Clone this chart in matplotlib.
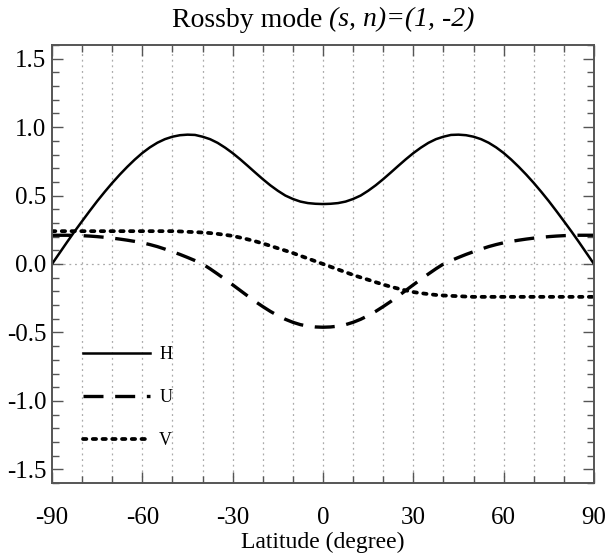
import numpy as np
import matplotlib.pyplot as plt
from matplotlib.ticker import MultipleLocator

plt.rcParams['font.family'] = ['Liberation Serif', 'DejaVu Serif']
plt.rcParams['axes.unicode_minus'] = False

# latitude (degree), every 2.5 deg
lat = np.arange(-90, 92.5, 2.5)

# values for -90..0; H and U are symmetric, V antisymmetric
h_half = [0.00, 0.08, 0.16, 0.238, 0.313, 0.387, 0.459, 0.527, 0.592, 0.653, 0.710, 0.763,
          0.811, 0.852, 0.886, 0.912, 0.930, 0.941, 0.945, 0.943, 0.93, 0.912, 0.885, 0.85,
          0.81, 0.765, 0.717, 0.668, 0.62, 0.575, 0.535, 0.50, 0.475, 0.456, 0.445, 0.44, 0.438]
u_half = [0.21, 0.21, 0.21, 0.209, 0.207, 0.204, 0.20, 0.195, 0.189, 0.182, 0.174, 0.165,
          0.155, 0.142, 0.127, 0.109, 0.09, 0.07, 0.048, 0.025, 0.0, -0.035, -0.073, -0.112,
          -0.152, -0.193, -0.234, -0.274, -0.311, -0.346, -0.377, -0.404, -0.426, -0.443,
          -0.454, -0.46, -0.462]
v_half = [0.24, 0.24, 0.24, 0.24, 0.24, 0.24, 0.24, 0.24, 0.24, 0.24, 0.24, 0.24, 0.24, 0.24,
          0.24, 0.24, 0.24, 0.238, 0.235, 0.233, 0.23, 0.226, 0.22, 0.213, 0.205, 0.193, 0.18,
          0.166, 0.15, 0.133, 0.115, 0.098, 0.08, 0.06, 0.04, 0.02, 0.0]

H = h_half + h_half[-2::-1]
U = u_half + u_half[-2::-1]
V = v_half + [-v for v in v_half[-2::-1]]

fig = plt.figure(figsize=(6.06, 5.57), dpi=100)
ax = fig.add_axes([52 / 606, 1 - 483 / 557, 542 / 606, 438 / 557])

ax.plot(lat, H, color='black', lw=1.8, label='H')
ax.plot(lat, U, color='black', lw=2.4, dashes=(6, 3.5), label='U')
ax.plot(lat, V, color='black', lw=2.7, dashes=(0.9, 1.7), dash_capstyle='round', label='V')

ax.set_xlim(-90, 90)
ax.set_ylim(-1.6, 1.6)
ax.xaxis.set_major_locator(MultipleLocator(30))
ax.xaxis.set_minor_locator(MultipleLocator(10))
ax.yaxis.set_major_locator(MultipleLocator(0.5))
ax.yaxis.set_minor_locator(MultipleLocator(0.1))
ax.yaxis.set_major_formatter(lambda v, p: f'{v:.1f}')
ax.tick_params(which='both', direction='in', top=True, right=True, color='#555555',
               labelsize=18, width=1)
ax.tick_params(which='major', length=8)
ax.tick_params(which='minor', length=5)
ax.tick_params(axis='x', which='major', pad=17)
ax.tick_params(axis='y', which='major', pad=4)
for s in ax.spines.values():
    s.set_color('#555555')
    s.set_linewidth(1.4)

for x in range(-80, 90, 10):
    ax.axvline(x, color='#aaaaaa', lw=0.9, ls=(0, (1.5, 3)), zorder=0)
ax.axhline(0, color='#aaaaaa', lw=0.9, ls=(0, (1.5, 3)), zorder=0)

ax.set_xlabel('Latitude (degree)', fontsize=17, labelpad=2)

leg = ax.legend(loc='upper left', bbox_to_anchor=(0.028, 0.35), frameon=False,
                handlelength=3.7, labelspacing=1.45, fontsize=13, handletextpad=0.5)

# title: upright part followed by italic part
r = fig.canvas.get_renderer()
t1 = fig.text(0, 0.964, 'Rossby mode ', fontsize=20, va='center')
t2 = fig.text(0, 0.964, '(s, n)=(1, -2)', fontsize=20, style='italic', va='center')
w1 = t1.get_window_extent(r).width
w2 = t2.get_window_extent(r).width
x0 = 323 - (w1 + w2) / 2
t1.set_x(x0 / 606)
t2.set_x((x0 + w1) / 606)

fig.savefig('out.png', dpi=100)
